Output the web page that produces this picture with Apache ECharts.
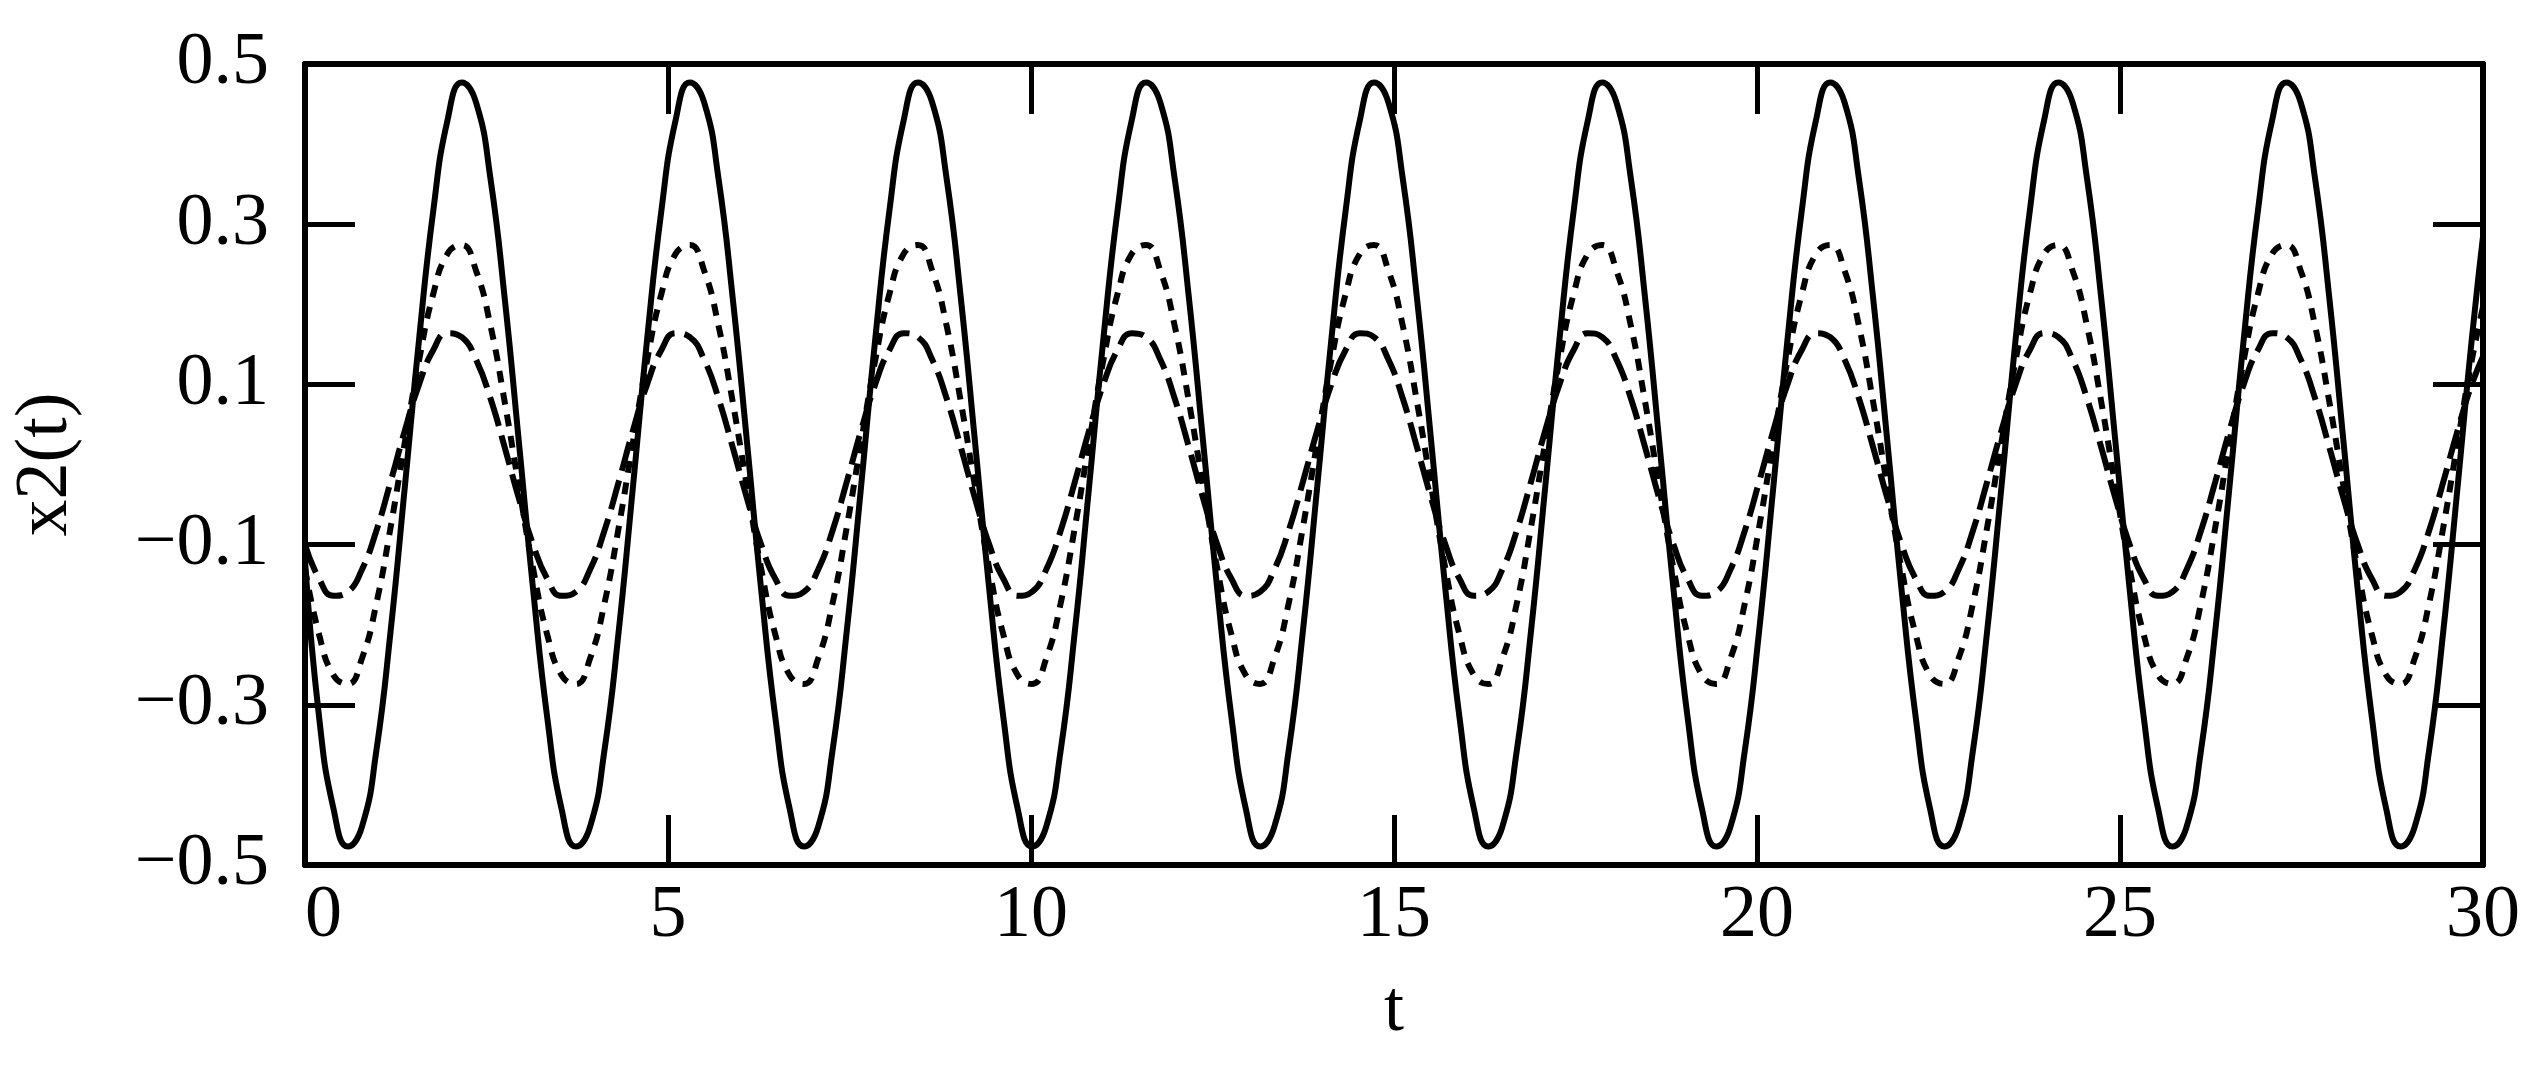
<!DOCTYPE html>
<html>
<head>
<meta charset="utf-8">
<style>
  html, body { margin: 0; padding: 0; background: #fff; }
  #chart { width: 2544px; height: 1070px; }
</style>
<script src="https://cdn.jsdelivr.net/npm/echarts@6/dist/echarts.min.js"></script>
</head>
<body>
<div id="chart"></div>
<script>
// sample times (t)
var tVals = [
  0, 0.196, 0.393, 0.589, 0.785, 0.982, 1.178, 1.374, 1.571, 1.767, 1.963, 2.16, 2.356, 2.553, 2.749, 2.945,
  3.142, 3.338, 3.534, 3.731, 3.927, 4.123, 4.32, 4.516, 4.712, 4.909, 5.105, 5.301, 5.498, 5.694, 5.89, 6.087,
  6.283, 6.48, 6.676, 6.872, 7.069, 7.265, 7.461, 7.658, 7.854, 8.05, 8.247, 8.443, 8.639, 8.836, 9.032, 9.228,
  9.425, 9.621, 9.817, 10.014, 10.21, 10.407, 10.603, 10.799, 10.996, 11.192, 11.388, 11.585, 11.781, 11.977, 12.174, 12.37,
  12.566, 12.763, 12.959, 13.155, 13.352, 13.548, 13.744, 13.941, 14.137, 14.334, 14.53, 14.726, 14.923, 15.119, 15.315, 15.512,
  15.708, 15.904, 16.101, 16.297, 16.493, 16.69, 16.886, 17.082, 17.279, 17.475, 17.671, 17.868, 18.064, 18.261, 18.457, 18.653,
  18.85, 19.046, 19.242, 19.439, 19.635, 19.831, 20.028, 20.224, 20.42, 20.617, 20.813, 21.009, 21.206, 21.402, 21.598, 21.795,
  21.991, 22.188, 22.384, 22.58, 22.777, 22.973, 23.169, 23.366, 23.562, 23.758, 23.955, 24.151, 24.347, 24.544, 24.74, 24.936,
  25.133, 25.329, 25.525, 25.722, 25.918, 26.114, 26.311, 26.507, 26.704, 26.9, 27.096, 27.293, 27.489, 27.685, 27.882, 28.078,
  28.274, 28.471, 28.667, 28.863, 29.06, 29.256, 29.452, 29.649, 29.845, 30.041
];

// x2(t), large curve (solid)
var x2Solid = [
  -0.12, -0.317, -0.43, -0.477, -0.452, -0.358, -0.209, -0.029, 0.156, 0.317, 0.43, 0.477, 0.452, 0.358, 0.209, 0.029,
  -0.156, -0.317, -0.43, -0.477, -0.452, -0.358, -0.209, -0.029, 0.156, 0.317, 0.43, 0.477, 0.452, 0.358, 0.209, 0.029,
  -0.156, -0.317, -0.43, -0.477, -0.452, -0.358, -0.209, -0.029, 0.156, 0.317, 0.43, 0.477, 0.452, 0.358, 0.209, 0.029,
  -0.156, -0.317, -0.43, -0.477, -0.452, -0.358, -0.209, -0.029, 0.156, 0.317, 0.43, 0.477, 0.452, 0.358, 0.209, 0.029,
  -0.156, -0.317, -0.43, -0.477, -0.452, -0.358, -0.209, -0.029, 0.156, 0.317, 0.43, 0.477, 0.452, 0.358, 0.209, 0.029,
  -0.156, -0.317, -0.43, -0.477, -0.452, -0.358, -0.209, -0.029, 0.156, 0.317, 0.43, 0.477, 0.452, 0.358, 0.209, 0.029,
  -0.156, -0.317, -0.43, -0.477, -0.452, -0.358, -0.209, -0.029, 0.156, 0.317, 0.43, 0.477, 0.452, 0.358, 0.209, 0.029,
  -0.156, -0.317, -0.43, -0.477, -0.452, -0.358, -0.209, -0.029, 0.156, 0.317, 0.43, 0.477, 0.452, 0.358, 0.209, 0.029,
  -0.156, -0.317, -0.43, -0.477, -0.452, -0.358, -0.209, -0.029, 0.156, 0.317, 0.43, 0.477, 0.452, 0.358, 0.209, 0.029,
  -0.156, -0.317, -0.43, -0.477, -0.452, -0.358, -0.209, -0.029, 0.156, 0.317
];

// middle curve (short dashes)
var x2Dashed = [
  -0.13, -0.213, -0.263, -0.274, -0.242, -0.174, -0.079, 0.027, 0.13, 0.213, 0.263, 0.274, 0.242, 0.174, 0.079, -0.027,
  -0.13, -0.213, -0.263, -0.274, -0.242, -0.174, -0.079, 0.027, 0.13, 0.213, 0.263, 0.274, 0.242, 0.174, 0.079, -0.027,
  -0.13, -0.213, -0.263, -0.274, -0.242, -0.174, -0.079, 0.027, 0.13, 0.213, 0.263, 0.274, 0.242, 0.174, 0.079, -0.027,
  -0.13, -0.213, -0.263, -0.274, -0.242, -0.174, -0.079, 0.027, 0.13, 0.213, 0.263, 0.274, 0.242, 0.174, 0.079, -0.027,
  -0.13, -0.213, -0.263, -0.274, -0.242, -0.174, -0.079, 0.027, 0.13, 0.213, 0.263, 0.274, 0.242, 0.174, 0.079, -0.027,
  -0.13, -0.213, -0.263, -0.274, -0.242, -0.174, -0.079, 0.027, 0.13, 0.213, 0.263, 0.274, 0.242, 0.174, 0.079, -0.027,
  -0.13, -0.213, -0.263, -0.274, -0.242, -0.174, -0.079, 0.027, 0.13, 0.213, 0.263, 0.274, 0.242, 0.174, 0.079, -0.027,
  -0.13, -0.213, -0.263, -0.274, -0.242, -0.174, -0.079, 0.027, 0.13, 0.213, 0.263, 0.274, 0.242, 0.174, 0.079, -0.027,
  -0.13, -0.213, -0.263, -0.274, -0.242, -0.174, -0.079, 0.027, 0.13, 0.213, 0.263, 0.274, 0.242, 0.174, 0.079, -0.027,
  -0.13, -0.213, -0.263, -0.274, -0.242, -0.174, -0.079, 0.027, 0.13, 0.213
];

// small curve (long dashes)
var x2DashDot = [
  -0.1, -0.143, -0.164, -0.159, -0.131, -0.083, -0.022, 0.042, 0.1, 0.143, 0.164, 0.159, 0.131, 0.083, 0.022, -0.042,
  -0.1, -0.143, -0.164, -0.159, -0.131, -0.083, -0.022, 0.042, 0.1, 0.143, 0.164, 0.159, 0.131, 0.083, 0.022, -0.042,
  -0.1, -0.143, -0.164, -0.159, -0.131, -0.083, -0.022, 0.042, 0.1, 0.143, 0.164, 0.159, 0.131, 0.083, 0.022, -0.042,
  -0.1, -0.143, -0.164, -0.159, -0.131, -0.083, -0.022, 0.042, 0.1, 0.143, 0.164, 0.159, 0.131, 0.083, 0.022, -0.042,
  -0.1, -0.143, -0.164, -0.159, -0.131, -0.083, -0.022, 0.042, 0.1, 0.143, 0.164, 0.159, 0.131, 0.083, 0.022, -0.042,
  -0.1, -0.143, -0.164, -0.159, -0.131, -0.083, -0.022, 0.042, 0.1, 0.143, 0.164, 0.159, 0.131, 0.083, 0.022, -0.042,
  -0.1, -0.143, -0.164, -0.159, -0.131, -0.083, -0.022, 0.042, 0.1, 0.143, 0.164, 0.159, 0.131, 0.083, 0.022, -0.042,
  -0.1, -0.143, -0.164, -0.159, -0.131, -0.083, -0.022, 0.042, 0.1, 0.143, 0.164, 0.159, 0.131, 0.083, 0.022, -0.042,
  -0.1, -0.143, -0.164, -0.159, -0.131, -0.083, -0.022, 0.042, 0.1, 0.143, 0.164, 0.159, 0.131, 0.083, 0.022, -0.042,
  -0.1, -0.143, -0.164, -0.159, -0.131, -0.083, -0.022, 0.042, 0.1, 0.143
];

var yTicks = [-0.5, -0.3, -0.1, 0.1, 0.3, 0.5];
var yInnerTicks = [-0.3, -0.1, 0.1, 0.3];

var font = "'Liberation Serif', 'Times New Roman', serif";

function pairs(vals) {
  return tVals.map(function (t, i) { return [t, vals[i]]; });
}

function fmtY(v) {
  return v.toFixed(1).replace('-', '\u2212');
}

var frameLine = { onZero: false, lineStyle: { color: '#000', width: 6 } };
var tickStyle = { inside: true, length: 50, lineStyle: { color: '#000', width: 5 } };

var chart = echarts.init(document.getElementById('chart'));
chart.setOption({
  animation: false,
  backgroundColor: '#fff',
  grid: { left: 305, right: 61, top: 64, bottom: 205 },
  xAxis: [
    {
      type: 'value', position: 'bottom', min: 0, max: 30, interval: 5,
      axisLine: frameLine, axisTick: tickStyle, splitLine: { show: false },
      axisLabel: { margin: 15, color: '#000', fontFamily: font, fontSize: 74, alignMinLabel: 'left' },
      name: 't', nameLocation: 'middle', nameGap: 110,
      nameTextStyle: { color: '#000', fontFamily: font, fontSize: 72 }
    },
    {
      type: 'value', position: 'top', min: 0, max: 30, interval: 5,
      axisLine: frameLine, axisTick: tickStyle, splitLine: { show: false },
      axisLabel: { show: false }
    }
  ],
  yAxis: [
    {
      type: 'value', position: 'left', min: -0.5, max: 0.5,
      axisLine: frameLine, splitLine: { show: false },
      axisTick: { inside: true, length: 50, lineStyle: { color: '#000', width: 5 }, customValues: yInnerTicks },
      axisLabel: { margin: 36, color: '#000', fontFamily: font, fontSize: 74, customValues: yTicks, formatter: fmtY },
      name: 'x2(t)', nameLocation: 'middle', nameGap: 221, nameRotate: 90,
      nameTextStyle: { color: '#000', fontFamily: font, fontSize: 74 }
    },
    {
      type: 'value', position: 'right', min: -0.5, max: 0.5,
      axisLine: frameLine, splitLine: { show: false },
      axisTick: { inside: true, length: 50, lineStyle: { color: '#000', width: 5 }, customValues: yInnerTicks },
      axisLabel: { show: false }
    }
  ],
  series: [
    {
      name: 'small', type: 'line', data: pairs(x2DashDot), showSymbol: false, smooth: true, silent: true,
      lineStyle: { color: '#000', width: 6, type: [30, 10] }
    },
    {
      name: 'middle', type: 'line', data: pairs(x2Dashed), showSymbol: false, smooth: true, silent: true,
      lineStyle: { color: '#000', width: 6, type: [12, 10] }
    },
    {
      name: 'large', type: 'line', data: pairs(x2Solid), showSymbol: false, smooth: true, silent: true,
      lineStyle: { color: '#000', width: 6, type: 'solid' }
    }
  ]
});
</script>
</body>
</html>
